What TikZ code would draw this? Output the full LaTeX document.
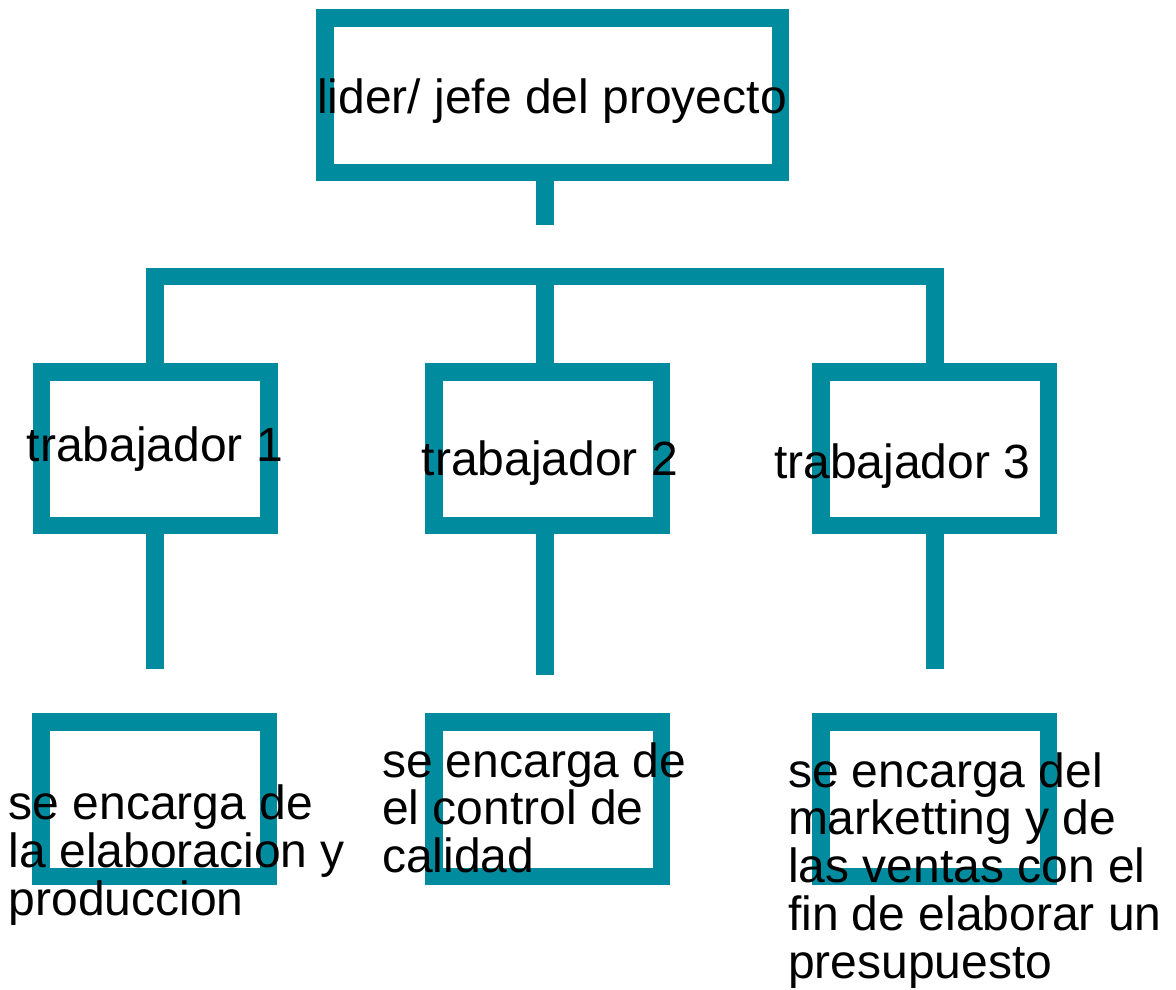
\documentclass[tikz,border=0pt]{standalone}
\usepackage{fontspec}
\setmainfont{Liberation Sans}
\definecolor{orgteal}{RGB}{0,139,158}

\begin{document}
\begin{tikzpicture}[x=1pt, y=-1pt,
    box/.style={draw=orgteal, line width=17.5pt, minimum width=227.5pt,
        minimum height=153.5pt, inner sep=0pt},
    link/.style={draw=orgteal, line width=17.5pt},
    txt/.style={anchor=base west, inner sep=0pt, align=left,
        font=\fontsize{48}{47.8}\selectfont}]
    \useasboundingbox (0,0) rectangle (1176,989);

    % Leader
    \node[box, minimum width=455.5pt, minimum height=154.5pt] (lider) at (552.5,95) {};

    % Workers
    \node[box] (t1) at (155,448.5) {};
    \node[box] (t2) at (547.8,448.5) {};
    \node[box] (t3) at (934.8,448.5) {};

    % Tasks
    \node[box, minimum height=154.5pt] (d1) at (154.7,799) {};
    \node[box, minimum height=154.5pt] (d2) at (547.8,799) {};
    \node[box, minimum height=154.5pt] (d3) at (934.9,799) {};

    % Connectors
    \coordinate (s0) at (545,225);
    \coordinate (bus) at (545,276.5);
    \draw[link] (lider.south -| s0) -- (s0);
    \draw[link] (t1.north) |- (bus) -| (t3.north);
    \draw[link] (bus) -- (bus |- t2.north);

    \coordinate (e1) at (155,669);
    \coordinate (e2) at (545,675);
    \coordinate (e3) at (935,669);
    \draw[link] (t1.south) -- (e1);
    \draw[link] (t2.south -| e2) -- (e2);
    \draw[link] (t3.south -| e3) -- (e3);

    % Labels
    \node[txt] (lbl0) at (317,113) {lider/ jefe del proyecto};
    \node[txt] (lbl1) at (26.5,461) {trabajador 1};
    \node[txt] (lbl2) at (421.5,475) {trabajador 2};
    \node[txt] (lbl3) at (774,478) {trabajador 3};

    \node[txt] (tarea1) at (8.5,915) {se encarga de\\la elaboracion y\\produccion};
    \node[txt] (tarea2) at (381.8,872.7) {se encarga de\\el control de\\calidad};
    \node[txt] (tarea3) at (787.8,978.3) {se encarga del\\marketting y de\\las ventas con el\\fin de elaborar un\\presupuesto};
\end{tikzpicture}
\end{document}
